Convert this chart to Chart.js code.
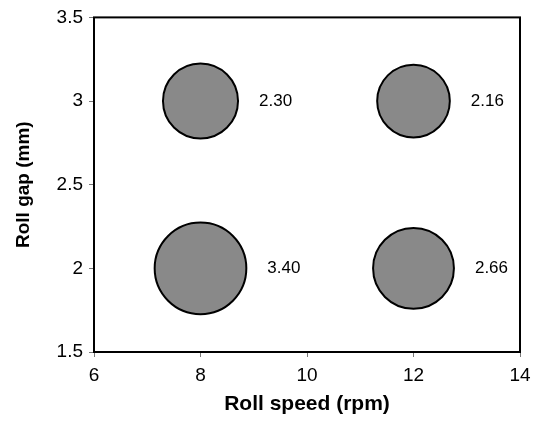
<!DOCTYPE html>
<html>
<head>
<meta charset="utf-8">
<script src="https://cdn.jsdelivr.net/npm/chart.js"></script>
<style>
  body { margin: 0; background: #fff; }
</style>
</head>
<body>
<div style="width: 540px; height: 422px">
  <canvas id="rollChart" width="540" height="422"></canvas>
</div>
<script>
  // roll speed (rpm), roll gap (mm) and the value written next to each bubble
  const rollSpeed = [8, 12, 8, 12];
  const rollGap = [3, 3, 2, 2];
  const values = [2.30, 2.16, 3.40, 2.66];
  const xTicks = [6, 8, 10, 12, 14];
  const yTicks = [1.5, 2, 2.5, 3, 3.5];

  const FONT = "'Liberation Sans', Arial, sans-serif";

  const points = rollSpeed.map((x, i) => ({ x: x, y: rollGap[i], v: values[i] }));

  // bubble area grows with the value
  const radiusOf = (v) => 25.4 * Math.sqrt(v) - 1;

  // the bubble controller reserves room for its biggest bubble around the
  // chart area; the frame here is fixed, so drop that
  Chart.registry.getController("bubble").prototype.getMaxOverflow = () => 0;

  const frameAndLabels = {
    id: "frameAndLabels",
    afterDatasetsDraw(chart) {
      const ctx = chart.ctx;
      const a = chart.chartArea;
      ctx.save();
      ctx.strokeStyle = "#000";
      ctx.lineWidth = 2;
      ctx.strokeRect(a.left, a.top, a.right - a.left, a.bottom - a.top);

      ctx.fillStyle = "#000";
      ctx.font = "17px " + FONT;
      ctx.textBaseline = "middle";
      ctx.textAlign = "left";
      chart.getDatasetMeta(0).data.forEach((el, i) => {
        const r = radiusOf(values[i]) + 1;
        ctx.fillText(values[i].toFixed(2), el.x + r + 20, el.y);
      });
      ctx.restore();
    },
  };

  new Chart(document.getElementById("rollChart"), {
    type: "bubble",
    data: {
      datasets: [
        {
          data: points,
          backgroundColor: "#898989",
          borderColor: "#000",
          borderWidth: 2,
          radius: (c) => radiusOf(c.raw.v),
        },
      ],
    },
    options: {
      responsive: false,
      animation: false,
      events: [],
      layout: { padding: { top: 16, right: 20, left: 0, bottom: 0 } },
      plugins: { legend: { display: false }, tooltip: { enabled: false } },
      scales: {
        x: {
          type: "linear",
          min: 6,
          max: 14,
          afterBuildTicks: (s) => { s.ticks = xTicks.map((v) => ({ value: v })); },
          afterFit: (s) => { s.height = 70; },
          grid: { drawOnChartArea: false, drawTicks: true, tickLength: 5, color: "#777", lineWidth: 1 },
          border: { display: false },
          ticks: { color: "#000", font: { family: FONT, size: 19 }, padding: 7, maxRotation: 0 },
          title: {
            display: true,
            text: "Roll speed (rpm)",
            color: "#000",
            font: { family: FONT, size: 21, weight: "bold" },
            padding: { top: 0, bottom: 5 },
          },
        },
        y: {
          type: "linear",
          min: 1.5,
          max: 3.5,
          afterBuildTicks: (s) => { s.ticks = yTicks.map((v) => ({ value: v })); },
          afterFit: (s) => { s.width = 94; },
          grid: { drawOnChartArea: false, drawTicks: true, tickLength: 5, color: "#777", lineWidth: 1 },
          border: { display: false },
          ticks: {
            color: "#000",
            font: { family: FONT, size: 19 },
            padding: 6,
            callback: (v) => String(v),
          },
          title: {
            display: true,
            text: "Roll gap (mm)",
            color: "#000",
            font: { family: FONT, size: 19, weight: "bold" },
            padding: { top: 12, bottom: 0 },
          },
        },
      },
    },
    plugins: [frameAndLabels],
  });
</script>
</body>
</html>
